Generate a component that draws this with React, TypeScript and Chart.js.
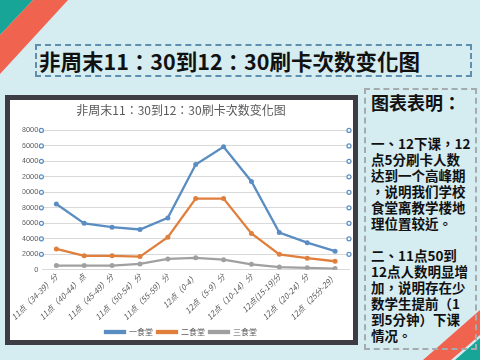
import React, { useEffect, useRef } from "react";
import { Chart, registerables } from "chart.js";

Chart.register(...registerables);

const categories = [
  "11点（34-39）分",
  "11点（40-44）点",
  "11点（45-49）分",
  "11点（50-54）分",
  "11点（55-59）分",
  "12点（0-4）",
  "12点（5-9）分",
  "12点（10-14）分",
  "12点(15-19)分",
  "12点（20-24）分",
  "12点（25分-29）",
];
const seriesNames = ["一食堂", "二食堂", "三食堂"];
const canteen1 = [8500, 6000, 5500, 5200, 6700, 13600, 15900, 11400, 4800, 3500, 2400];
const canteen2 = [2700, 1800, 1800, 1700, 4200, 9200, 9200, 4700, 2000, 1500, 1100];
const canteen3 = [550, 550, 550, 750, 1400, 1550, 1300, 700, 350, 250, 150];
const yMin = 0;
const yMax = 18000;
const yStep = 2000;

const chartTitle = "非周末11：30到12：30刷卡次数变化图";
const noteTitle = "图表表明：";
const noteLines = [
  "一、12下课，12",
  "点5分刷卡人数",
  "达到一个高峰期",
  "，说明我们学校",
  "食堂离教学楼地",
  "理位置较近。",
  "",
  "二、11点50到",
  "12点人数明显增",
  "加，说明存在少",
  "数学生提前（1",
  "到5分钟）下课",
  "情况。",
];

const colors = ["#5a8dc2", "#e07f3c", "#a0a0a0"];

const edgeMarkers = {
  id: "edgeMarkers",
  afterDatasetsDraw(chart: any) {
    const { ctx, chartArea, scales } = chart;
    const y = scales.y;
    ctx.save();
    y.ticks.forEach((t: any) => {
      if (t.value === 0) return;
      const py = y.getPixelForValue(t.value);
      [chartArea.left - 1, chartArea.right].forEach((px: number) => {
        ctx.beginPath();
        ctx.arc(px, py, 2, 0, Math.PI * 2);
        ctx.fillStyle = "#ffffff";
        ctx.fill();
        ctx.strokeStyle = "#5a8dc2";
        ctx.lineWidth = 1.2;
        ctx.stroke();
      });
    });
    ctx.restore();
  },
};

function LineChart() {
  const ref = useRef<HTMLCanvasElement | null>(null);
  useEffect(() => {
    if (!ref.current) return;
    const data = [canteen1, canteen2, canteen3];
    const chart = new Chart(ref.current, {
      type: "line",
      data: {
        labels: categories,
        datasets: seriesNames.map((name, i) => ({
          label: name,
          data: data[i],
          borderColor: colors[i],
          backgroundColor: colors[i],
          borderWidth: 2.3,
          pointRadius: 2.5,
          pointBorderWidth: 0,
          pointBackgroundColor: colors[i],
          tension: 0,
        })),
      },
      options: {
        responsive: false,
        maintainAspectRatio: false,
        animation: false,
        layout: { padding: { left: 0, right: 1, top: 0, bottom: 0 } },
        plugins: {
          title: {
            display: true,
            text: chartTitle,
            color: "#595959",
            font: { size: 12, family: "'Noto Sans CJK TC', sans-serif", weight: "normal" as any },
            padding: { top: 3, bottom: 13 },
          },
          legend: {
            position: "bottom",
            labels: {
              boxWidth: 20,
              boxHeight: 2,
              color: "#595959",
              font: { size: 8, family: "'Noto Sans CJK SC', sans-serif" },
              padding: 4,
            },
          },
          tooltip: { enabled: false },
        },
        scales: {
          x: {
            offset: true,
            grid: { display: false, drawTicks: false },
            border: { color: "#d9d9d9" },
            ticks: {
              color: "#595959",
              font: { size: 8, style: "italic", family: "'Noto Sans CJK SC', sans-serif" },
              maxRotation: 45,
              minRotation: 45,
              padding: 2,
              autoSkip: false,
            },
          },
          y: {
            min: yMin,
            max: yMax,
            ticks: {
              stepSize: yStep,
              color: "#595959",
              font: { size: 7.5, family: "'Liberation Sans Narrow', 'Liberation Sans', sans-serif" },
              padding: 4,
              callback: (v: any) => String(v),
            },
            grid: { color: "#d9d9d9", drawTicks: false },
            border: { display: false },
            afterFit: (s: any) => {
              s.width = 20;
            },
          },
        },
      },
      plugins: [edgeMarkers],
    });
    return () => chart.destroy();
  }, []);
  return <canvas ref={ref} width={343} height={246} style={{ display: "block" }} />;
}

export default function App() {
  return (
    <div
      style={{
        position: "fixed",
        left: 0,
        top: 0,
        width: 480,
        height: 360,
        background: "#d5ecf1",
        overflow: "hidden",
        fontFamily: "'Noto Sans CJK TC', 'Noto Sans CJK SC', sans-serif",
      }}
    >
      <svg width={480} height={360} style={{ position: "absolute", left: 0, top: 0 }}>
        <polygon points="0,0 33,0 0,35" fill="#16a596" />
        <polygon points="33,0 68,0 0,74 0,35" fill="#f0634e" />
        <polygon points="423,360 480,310 480,335 451,360" fill="#f0634e" />
        <polygon points="455,360 480,338 480,360" fill="#16a596" />
      </svg>
      <div
        style={{
          position: "absolute",
          left: 35,
          top: 44,
          width: 437,
          height: 33,
          boxSizing: "border-box",
          border: "2px dashed #5f8fae",
        }}
      />
      <div
        style={{
          position: "absolute",
          left: 39,
          top: 45,
          height: 31,
          lineHeight: "31px",
          fontSize: 21.5,
          fontWeight: "bold",
          color: "#111",
          whiteSpace: "nowrap",
        }}
      >
        {chartTitle}
      </div>
      <div
        style={{
          position: "absolute",
          left: 5,
          top: 95,
          width: 353,
          height: 250,
          background: "#3c3c42",
        }}
      />
      <div
        style={{
          position: "absolute",
          left: 10,
          top: 100,
          width: 343,
          height: 240,
          background: "#ffffff",
          overflow: "hidden",
        }}
      >
        <LineChart />
      </div>
      <div
        style={{
          position: "absolute",
          left: 364,
          top: 88,
          width: 113,
          height: 262,
          boxSizing: "border-box",
          border: "2px dashed #a3abae",
        }}
      />
      <div
        style={{
          position: "absolute",
          left: 371,
          top: 90,
          fontSize: 18,
          fontWeight: "bold",
          color: "#111",
          lineHeight: "24px",
          whiteSpace: "nowrap",
        }}
      >
        {noteTitle}
      </div>
      <div
        style={{
          position: "absolute",
          left: 371,
          top: 135,
          fontSize: 13.5,
          fontWeight: "bold",
          color: "#111",
          lineHeight: "16px",
          whiteSpace: "nowrap",
        }}
      >
        {noteLines.map((l, i) => (
          <div key={i} style={{ height: 16 }}>
            {l}
          </div>
        ))}
      </div>
    </div>
  );
}
